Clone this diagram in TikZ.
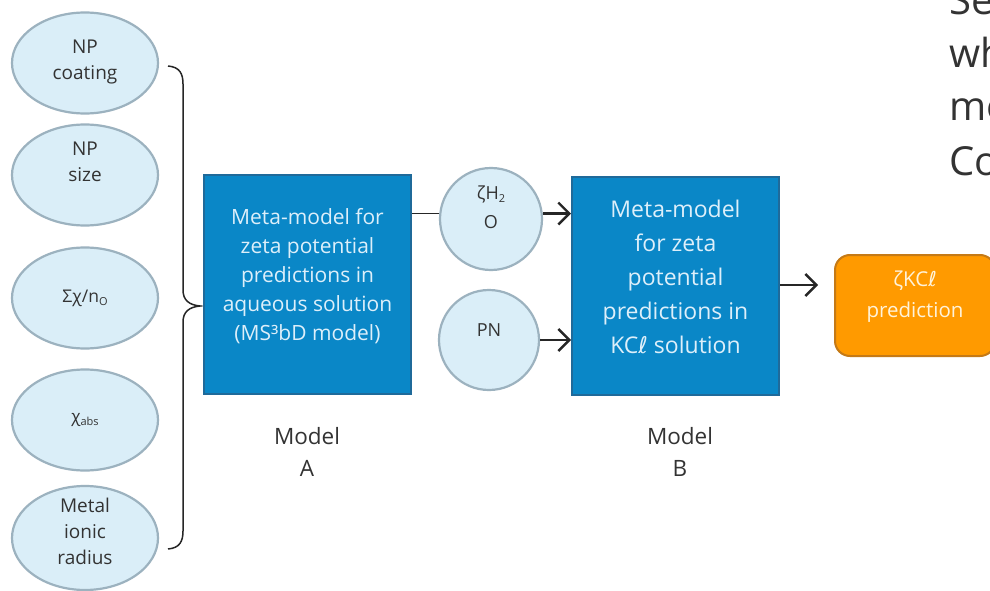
\documentclass[tikz,border=0pt]{standalone}
\usepackage{fontspec}
\setmainfont{Open Sans}
\newfontfamily\symfont{DejaVu Sans}
\usetikzlibrary{arrows.meta,shapes.geometric}
\definecolor{ellfill}{HTML}{DAEEF8}
\definecolor{elldraw}{HTML}{9CB2BF}
\definecolor{boxfill}{HTML}{0A87C7}
\definecolor{boxdraw}{HTML}{1F6A9A}
\definecolor{boxtext}{HTML}{DDEFFA}
\definecolor{orfill}{HTML}{FF9A00}
\definecolor{ordraw}{HTML}{C57A16}
\definecolor{ortext}{HTML}{FFF3DA}
\definecolor{ink}{HTML}{333333}
\definecolor{arrink}{HTML}{262626}
\newcommand{\mysubs}[1]{\raisebox{-0.35ex}{\fontsize{11}{11}\selectfont #1}}
\newcommand{\myell}{{\symfont ℓ}}
\tikzset{
  ell/.style={ellipse, draw=elldraw, fill=ellfill, line width=2.2pt, minimum width=146pt, minimum height=101pt, inner sep=0pt},
  ellt/.style={align=center, text=ink, font=\fontsize{19}{26}\selectfont},
  circ/.style={circle, draw=elldraw, fill=ellfill, line width=2.2pt, minimum size=100pt, inner sep=0pt},
  bluebox/.style={draw=boxdraw, fill=boxfill, line width=2pt, minimum width=207pt, minimum height=218pt, inner sep=0pt},
  arr/.style={draw=arrink, line width=2.2pt, -{Straight Barb[length=11pt,width=22pt,line width=2.4pt]}},
  lbl/.style={align=center, text=ink, font=\fontsize{22.5}{32}\selectfont},
}
\begin{document}
\begin{tikzpicture}[x=1pt,y=-1pt]
\useasboundingbox (0,0) rectangle (990,591);
\clip (0,0) rectangle (990,591);
\fill[white] (0,0) rectangle (990,591);
% ellipses
\node[ell] (e1) at (85,63) {};
\node[ellt] (e1t) at (85,62) {NP\\coating};
\node[ell] (e2) at (85,175) {};
\node[ellt] (e2t) at (85,162) {NP\\size};
\node[ell] (e3) at (85,298) {};
\node[ellt, font=\fontsize{17.5}{26}\selectfont] (e3t) at (85,298) {Σχ/n\mysubs{O}};
\node[ell] (e4) at (85,420) {};
\node[ellt, font=\fontsize{17}{26}\selectfont] (e4t) at (85,420) {χ\mysubs{abs}};
\node[ell, minimum height=104pt] (e5) at (85,538) {};
\node[ellt] (e5t) at (85,531) {Metal\\ionic\\radius};
% brace
\draw[arrink, line width=1.5pt] (168,66) .. controls (180,67) and (183,74) .. (183,84) -- (183,290)
  .. controls (183,300) and (189,305) .. (200,306)
  .. controls (189,307) and (183,312) .. (183,322) -- (183,531)
  .. controls (183,541) and (180,548) .. (168,549);
% box A
\node[bluebox, minimum height=219pt] (A) at (307.5,284.5) {};
\node[align=center, text=boxtext, font=\fontsize{21}{29}\selectfont] (At) at (307.5,276)
  {Meta-model for\\zeta potential\\predictions in\\aqueous solution\\(MS³bD model)};
\node[lbl] (Al) at (307,452) {Model\\A};
% circles
\node[circ, minimum size=102pt] (c1) at (491,219) {};
\node[align=center, text=ink, font=\fontsize{18}{29}\selectfont] (c1t) at (491,207) {ζH\mysubs{2}\\O};
\node[circ] (c2) at (489,340) {};
\node[text=ink, font=\fontsize{18}{20}\selectfont] (c2t) at (489,330) {PN};
% box B
\node[bluebox] (B) at (675.5,286) {};
\node[align=center, text=boxtext, font=\fontsize{23}{34}\selectfont] (Bt) at (675.5,277)
  {Meta-model\\for zeta\\potential\\predictions in\\KC\myell{} solution};
\node[lbl] (Bl) at (680,452) {Model\\B};
% orange
\node[draw=ordraw, fill=orfill, line width=2pt, rounded corners=15pt, minimum width=160pt, minimum height=101pt] (O) at (915,305.5) {};
\node[align=center, text=ortext, font=\fontsize{20.5}{31}\selectfont] (Ot) at (915,297) {ζKC\myell\\prediction};
% connectors
\draw[arrink, line width=1.5pt] (A.east |- c1.174) -- (c1.174);
\draw[arr] (c1.6) -- (B.west |- c1.6);
\draw[arr] (c2.east) -- (B.west |- c2.east);
\coordinate (oend) at (818,285);
\draw[arr] (B.east |- oend) -- (oend);
% right text
\node[anchor=base west, text=ink, font=\fontsize{40}{40}\selectfont, inner sep=0pt] (t1) at (949,15) {Se};
\node[anchor=base west, text=ink, font=\fontsize{40}{40}\selectfont, inner sep=0pt] (t2) at (949,68) {wh};
\node[anchor=base west, text=ink, font=\fontsize{40}{40}\selectfont, inner sep=0pt] (t3) at (949,121) {me};
\node[anchor=base west, text=ink, font=\fontsize{40}{40}\selectfont, inner sep=0pt] (t4) at (949,175) {Co};
\end{tikzpicture}
\end{document}
